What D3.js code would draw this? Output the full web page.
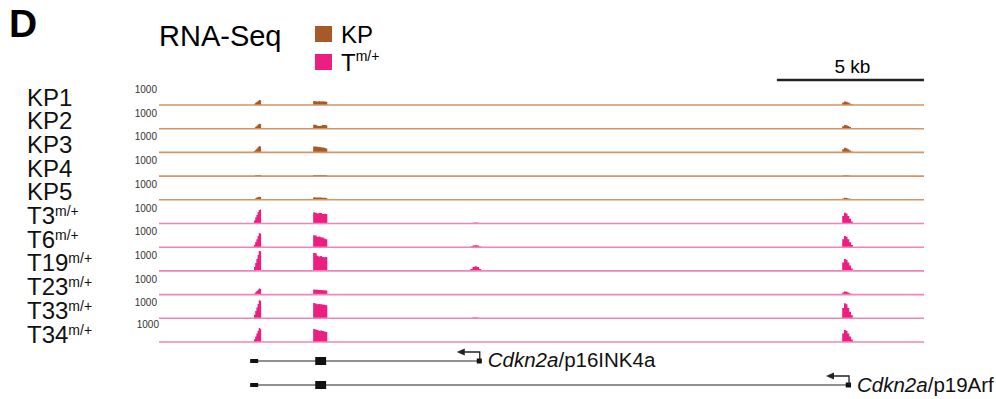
<!DOCTYPE html>
<html>
<head>
<meta charset="utf-8">
<script src="https://cdn.jsdelivr.net/npm/d3@7"></script>
<style>
  body { margin: 0; background: #fff; }
  svg { font-family: "Liberation Sans", Arial, Helvetica, sans-serif; }
</style>
</head>
<body>
<div id="chart"></div>
<script>
// 1: DATA
const samples = ["KP1", "KP2", "KP3", "KP4", "KP5", "T3", "T6", "T19", "T23", "T33", "T34"];
const groups = ["KP", "KP", "KP", "KP", "KP", "T", "T", "T", "T", "T", "T"];
const legendNames = ["KP", "T"];

// peaks in kb (start, end) along the locus
const peakStart = [3.23, 5.24, 10.58, 23.22];
const peakEnd = [3.47, 5.72, 10.95, 23.58];

// read coverage per bin (scale 0-1000), one list per peak
const cov = {
  KP1: [[60,110,150,200,250,240], [200,190,180,190,170,190,180,160], [0,0,0,0,0], [130,180,160,120,80,40]],
  KP2: [[50,100,150,210,250,230], [200,200,150,140,150,190,190,170], [0,0,0,0,0], [120,180,170,130,80,40]],
  KP3: [[70,130,200,260,320,300], [300,300,280,270,260,250,230,200], [0,0,0,0,0], [160,230,210,160,100,50]],
  KP4: [[20,40,50,60,60,50], [50,50,50,50,50,50,50,40], [0,0,0,0,0], [30,40,40,30,20,10]],
  KP5: [[40,80,110,140,150,140], [130,120,120,110,110,100,100,90], [0,0,0,0,0], [70,100,90,70,50,20]],
  T3: [[150,300,420,560,680,700], [560,540,500,530,520,480,490,470], [20,40,50,40,20], [380,540,500,380,240,100]],
  T6: [[120,260,400,560,700,680], [600,580,520,540,500,480,440,400], [40,90,100,80,40], [400,560,520,400,250,110]],
  T19: [[200,400,600,800,1000,980], [900,880,760,720,740,700,680,700], [90,200,230,190,90], [420,600,560,420,270,120]],
  T23: [[60,120,180,240,300,280], [250,240,240,230,230,220,220,200], [0,0,0,0,0], [100,150,140,100,60,30]],
  T33: [[180,360,540,720,900,880], [760,740,700,720,700,690,680,650], [15,35,40,30,15], [520,750,700,520,330,150]],
  T34: [[140,280,420,560,700,660], [650,620,600,560,580,550,520,500], [0,0,0,0,0], [420,600,560,420,270,120]]
};

// gene models (kb): exons [start, end, height]
const transcripts = [
  { name: "p16INK4a", exons: [[3.10, 3.37, 4], [5.31, 5.68, 8], [10.80, 10.97, 5]], tss: 10.97 },
  { name: "p19Arf", exons: [[3.10, 3.37, 4], [5.31, 5.68, 8], [23.34, 23.52, 5]], tss: 23.52 }
];

const locusKb = [0, 26];
const scaleBarKb = [21, 26];

// 2: SVG
const width = 996, height = 399;
const colors = { KP: "#a65a27", T: "#ec1e80" };
const lineColors = { KP: "#d29563", T: "#f183b6" };

const svg = d3.select("#chart")
  .append("svg")
  .attr("width", width)
  .attr("height", height);

// 3: SCALES
const x = d3.scaleLinear().domain(locusKb).range([159, 924]);
const row = d3.scaleLinear().domain([0, samples.length - 1]).range([105, 342]);
const yCov = d3.scaleLinear().domain([0, 1000]).range([0, 20]);

// 4: HEADER
svg.append("text")
  .attr("x", 9).attr("y", 37)
  .attr("font-size", 39).attr("font-weight", "bold")
  .text("D");

svg.append("text")
  .attr("x", 159).attr("y", 46)
  .attr("font-size", 29)
  .text("RNA-Seq");

legendNames.forEach((g, i) => {
  svg.append("rect")
    .attr("x", 315).attr("y", 26 + i * 28)
    .attr("width", 17).attr("height", 16)
    .attr("fill", colors[g]);
  const t = svg.append("text")
    .attr("x", 341).attr("y", 43 + i * 28)
    .attr("font-size", 24)
    .text(g);
  if (g === "T") {
    t.append("tspan").attr("font-size", 14).attr("dy", -10).text("m/+");
  }
});

// scale bar
svg.append("line")
  .attr("x1", x(scaleBarKb[0])).attr("x2", x(scaleBarKb[1]))
  .attr("y1", 80).attr("y2", 80)
  .attr("stroke", "#222").attr("stroke-width", 2.5);
svg.append("text")
  .attr("x", (x(scaleBarKb[0]) + x(scaleBarKb[1])) / 2 + 2).attr("y", 73)
  .attr("text-anchor", "middle")
  .attr("font-size", 19)
  .text("5 kb");

// 5: TRACKS
const area = d3.area()
  .curve(d3.curveStepAfter)
  .x(d => x(d.kb))
  .y0(0)
  .y1(d => -yCov(d.v));

samples.forEach((s, i) => {
  const g = groups[i];
  const base = row(i);
  const track = svg.append("g").attr("transform", `translate(0,${base})`);

  // sample label
  const lab = svg.append("text")
    .attr("x", 27).attr("y", base + 0.5)
    .attr("font-size", 24)
    .attr("fill", "#111")
    .text(s);
  if (g === "T") {
    lab.append("tspan").attr("font-size", 14).attr("dy", -8).text("m/+");
  }

  // data range label
  svg.append("text")
    .attr("x", i === samples.length - 1 ? 159 : 157)
    .attr("y", base - 12 - (i === samples.length - 1 ? 2 : 0))
    .attr("text-anchor", "end")
    .attr("font-size", 10)
    .attr("fill", "#333")
    .text("1000");

  // coverage
  cov[s].forEach((vals, p) => {
    const step = (peakEnd[p] - peakStart[p]) / vals.length;
    const pts = vals.map((v, k) => ({ kb: peakStart[p] + k * step, v }));
    pts.push({ kb: peakEnd[p], v: 0 });
    track.append("path")
      .datum(pts)
      .attr("d", area)
      .attr("fill", colors[g]);
  });

  // baseline
  track.append("line")
    .attr("x1", x(locusKb[0])).attr("x2", x(locusKb[1]))
    .attr("y1", 0).attr("y2", 0)
    .attr("stroke", lineColors[g])
    .attr("stroke-width", 1.6);
});

// 6: GENE MODELS
transcripts.forEach((tr, i) => {
  const y0 = 361 + i * 24;
  const gg = svg.append("g");
  const first = tr.exons[0][0];
  const last = tr.exons[tr.exons.length - 1][1];

  gg.append("line")
    .attr("x1", x(first)).attr("x2", x(last))
    .attr("y1", y0).attr("y2", y0)
    .attr("stroke", "#222").attr("stroke-width", 1);

  gg.selectAll("rect")
    .data(tr.exons)
    .enter()
    .append("rect")
    .attr("x", d => x(d[0]))
    .attr("width", d => x(d[1]) - x(d[0]))
    .attr("y", d => y0 - d[2] / 2)
    .attr("height", d => d[2])
    .attr("fill", "#111");

  // TSS arrow pointing left
  const tx = x(tr.tss) - 2;
  gg.append("path")
    .attr("d", `M${tx},${y0} V${y0 - 9} H${tx - 16}`)
    .attr("fill", "none")
    .attr("stroke", "#222").attr("stroke-width", 1.3);
  gg.append("path")
    .attr("d", `M${tx - 23},${y0 - 9} L${tx - 15},${y0 - 12.5} L${tx - 15},${y0 - 5.5} Z`)
    .attr("fill", "#222");

  const lbl = gg.append("text")
    .attr("x", x(tr.tss) + 6).attr("y", y0 + 6 + i)
    .attr("font-size", 20.5)
    .attr("fill", "#111");
  lbl.append("tspan").attr("font-style", "italic").text("Cdkn2a");
  lbl.append("tspan").text("/" + tr.name);
});
</script>
</body>
</html>
